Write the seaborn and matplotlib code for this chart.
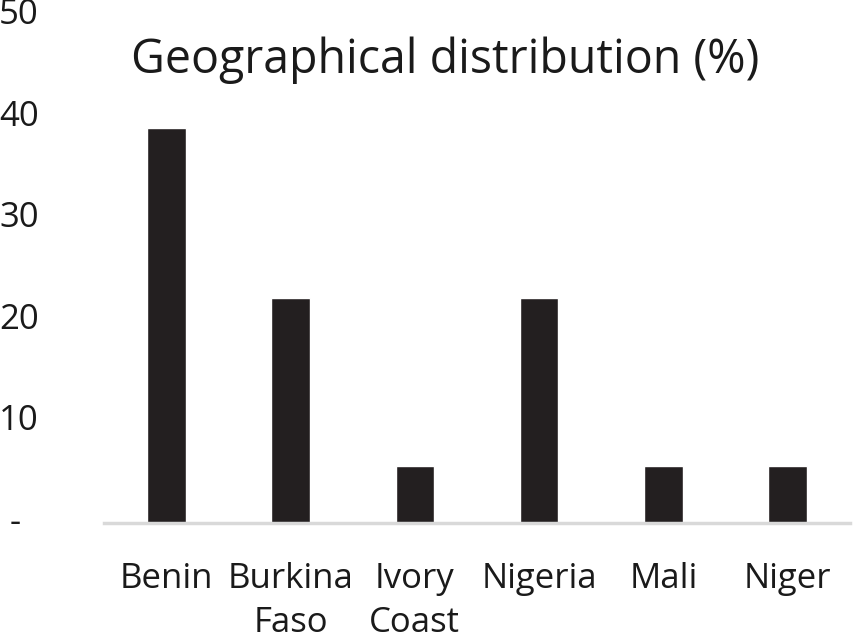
import numpy as np
import pandas as pd
import seaborn as sns
import matplotlib.pyplot as plt

countries = ['Benin', 'Burkina\nFaso', 'Ivory\nCoast', 'Nigeria', 'Mali', 'Niger']
share = [38.9, 22.2, 5.6, 22.2, 5.6, 5.6]
yticks = [0, 10, 20, 30, 40, 50]
ylabels = ['-  ', '10', '20', '30', '40', '50']

df = pd.DataFrame({'country': countries, 'share': share})

sns.set_style('white')
plt.rcParams['font.family'] = ['Open Sans', 'DejaVu Sans']

fig = plt.figure(figsize=(8.54, 6.37), dpi=100)
ax = fig.add_axes([0.122, 0.179, 0.873, 0.797])

sns.barplot(data=df, x='country', y='share', color='#231f20', width=0.31,
            saturation=1, ax=ax)

ax.set_xlim(-0.5, 5.5)
ax.set_ylim(0, 50)
ax.set_yticks(yticks)
ax.set_yticklabels(ylabels)
ax.set_xlabel('')
ax.set_ylabel('')

for s in ['top', 'right', 'left']:
    ax.spines[s].set_visible(False)
ax.spines['bottom'].set_color('#d9d9d9')
ax.spines['bottom'].set_linewidth(2.5)

ax.tick_params(axis='y', length=0, pad=47, labelsize=25, labelcolor='#1a1a1a')
ax.tick_params(axis='x', length=0, pad=28, labelsize=25, labelcolor='#1a1a1a')
for lab in ax.get_xticklabels():
    lab.set_linespacing(1.4)
for lab in ax.get_yticklabels():
    lab.set_verticalalignment('center')

fig.text(0.521, 0.906, 'Geographical distribution (%)', ha='center', va='center',
         fontsize=33.5, color='#1a1a1a')

fig.savefig('out.png', dpi=100)
